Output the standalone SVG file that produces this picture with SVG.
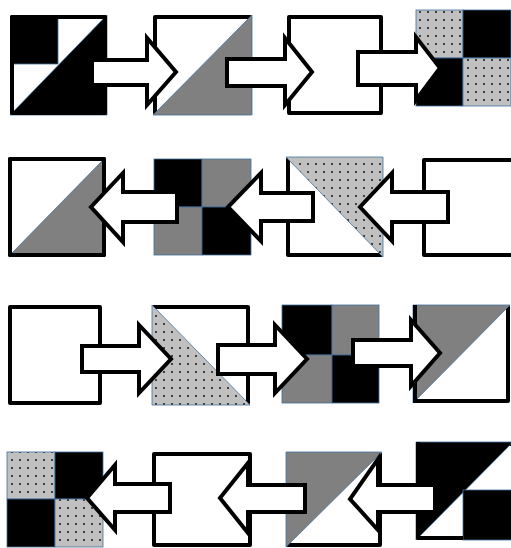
<svg xmlns="http://www.w3.org/2000/svg" width="511" height="548" viewBox="0 0 511 548">
<style>
.bd{fill:none;stroke:#000;stroke-width:4;stroke-linejoin:round}
.bw{fill:#fff;stroke:#000;stroke-width:4;stroke-linejoin:round}
.thin{stroke:#41719c;stroke-width:0.8}
.blk{fill:#000}
.gry{fill:#808080}
.dot{fill:url(#dots)}
.arr{fill:#fff;stroke:#000;stroke-width:4;stroke-linejoin:miter;stroke-miterlimit:10}
</style>
<defs>
<pattern id="dots" width="8" height="8" patternUnits="userSpaceOnUse">
<rect width="8" height="8" fill="#c0c0c0"/>
<rect x="3" y="3" width="2" height="2" fill="#404040"/>
</pattern>
</defs>
<rect width="511" height="548" fill="#fff"/>

<!-- Row 1 -->
<g id="a1">
<rect class="bw" x="12" y="17" width="93" height="96"/>
<polygon class="blk thin" points="10,115 107,15 107,115"/>
<rect class="blk thin" x="12" y="17" width="46" height="47"/>
<rect class="bd" x="12" y="17" width="93" height="96"/>
</g>
<g id="a2">
<rect class="bw" x="155" y="17" width="95" height="96"/>
<polygon class="gry thin" points="153,115 252,15 252,115"/>
</g>
<g id="a3">
<rect class="bw" x="289" y="17" width="92" height="96"/>
</g>
<g id="a4">
<rect class="dot thin" x="416" y="10" width="47" height="48"/>
<rect class="blk thin" x="463" y="10" width="48" height="48"/>
<rect class="blk thin" x="416" y="58" width="47" height="48"/>
<rect class="dot thin" x="463" y="58" width="48" height="48"/>
</g>

<!-- Row 2 -->
<g id="b1">
<rect class="bw" x="10" y="159" width="94" height="96"/>
<polygon class="gry thin" points="10,255 104,159 104,255"/>
<rect class="bd" x="10" y="159" width="94" height="96"/>
</g>
<g id="b2">
<rect class="blk thin" x="154" y="159" width="48" height="48"/>
<rect class="gry thin" x="202" y="159" width="49" height="48"/>
<rect class="gry thin" x="154" y="207" width="48" height="48"/>
<rect class="blk thin" x="202" y="207" width="49" height="48"/>
</g>
<g id="b3">
<rect class="bw" x="288" y="159" width="93" height="96"/>
<polygon class="dot thin" points="286,157 383,157 383,257"/>
</g>
<g id="b4">
<rect class="bw" x="424" y="160" width="95" height="95"/>
</g>

<!-- Row 3 -->
<g id="c1">
<rect class="bw" x="10" y="307" width="90" height="96"/>
</g>
<g id="c2">
<rect class="bw" x="154" y="307" width="94" height="96"/>
<polygon class="dot thin" points="152,305 152,405 250,405"/>
</g>
<g id="c3">
<rect class="blk thin" x="282" y="305" width="50" height="50"/>
<rect class="gry thin" x="332" y="305" width="47" height="50"/>
<rect class="gry thin" x="282" y="355" width="50" height="48"/>
<rect class="blk thin" x="332" y="355" width="47" height="48"/>
</g>
<g id="c4">
<rect class="bw" x="415" y="307" width="93" height="94"/>
<polygon class="gry thin" points="413,305 510,305 413,403"/>
<path class="bd" d="M415,305 V403"/>
</g>

<!-- Row 4 -->
<g id="d1">
<rect class="dot thin" x="7" y="452" width="48" height="47"/>
<rect class="blk thin" x="55" y="452" width="48" height="47"/>
<rect class="blk thin" x="7" y="499" width="48" height="48"/>
<rect class="dot thin" x="55" y="499" width="48" height="48"/>
</g>
<g id="d2">
<rect class="bw" x="154" y="454" width="96" height="91"/>
</g>
<g id="d3">
<rect class="bw" x="288" y="454" width="92" height="91"/>
<polygon class="gry thin" points="286,452 382,452 286,547"/>
</g>
<g id="d4">
<rect class="bw" x="418" y="444" width="97" height="94"/>
<polygon class="blk thin" points="416,442 513,442 416,540"/>
<rect class="blk thin" x="463" y="490" width="50" height="50"/>
<path class="bd" d="M418,442 V538 H463"/>
</g>

<g id="connectors">
<!-- row 1, right arrows -->
<path class="arr" d="M92,60 H147 V38 L176,72 L147,105 V85 H92 Z"/>
<path class="arr" d="M227,59 H285 V38 L312,72 L285,105 V86 H227 Z"/>
<path class="arr" d="M358,52 H416 V37 L440,68 L416,100 V85 H358 Z"/>
<!-- row 2, left arrows -->
<path class="arr" d="M177,192 H123 V173 L91,207 L123,242 V222 H177 Z"/>
<path class="arr" d="M313,193 H261 V173 L228,207 L261,241 V221 H313 Z"/>
<path class="arr" d="M448,192 H392 V173 L360,207 L392,241 V222 H448 Z"/>
<!-- row 3, right arrows -->
<path class="arr" d="M82,346 H139 V325 L171,359 L139,393 V372 H82 Z"/>
<path class="arr" d="M218,345 H275 V325 L307,359 L275,393 V374 H218 Z"/>
<path class="arr" d="M353,340 H411 V320 L440,353 L411,386 V366 H353 Z"/>
<!-- row 4, left arrows -->
<path class="arr" d="M170,484 H115 V465 L87,498 L115,530 V512 H170 Z"/>
<path class="arr" d="M305,485 H248 V463 L220,498 L248,533 V512 H305 Z"/>
<path class="arr" d="M435,485 H378 V459 L350,499 L378,530 V512 H435 Z"/>
</g>
</svg>
